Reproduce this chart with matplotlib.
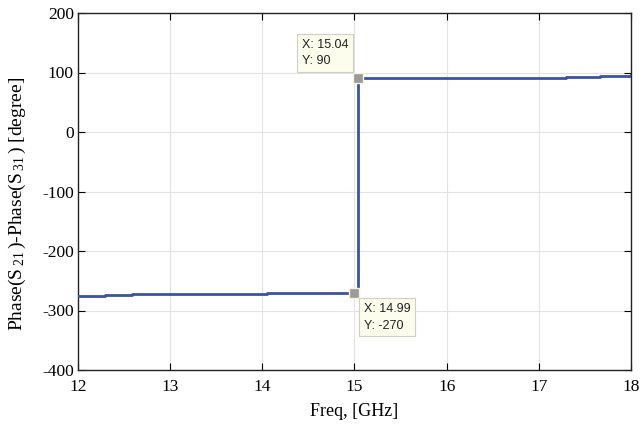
import matplotlib.pyplot as plt
import numpy as np

plt.rcParams['font.family'] = 'Liberation Serif'
plt.rcParams['mathtext.fontset'] = 'custom'
plt.rcParams['mathtext.rm'] = 'Liberation Serif'
plt.rcParams['mathtext.it'] = 'Liberation Serif:italic'
plt.rcParams['axes.unicode_minus'] = False

# phase difference, piecewise constant between sweep points
freq = [12.0, 12.29, 12.59, 13.03, 14.05, 14.99, 15.04, 16.82, 17.3, 17.66, 18.0]
phase = [-275, -274, -273, -272, -271, -270, 90, 91, 92, 94, 95]

# data tips
tip_x = [15.04, 14.99]
tip_y = [90, -270]

xticks = [12, 13, 14, 15, 16, 17, 18]
yticks = [-400, -300, -200, -100, 0, 100, 200]

fig = plt.figure(figsize=(6.43, 4.25), dpi=100)
ax = fig.add_axes([78 / 643, 1 - 370 / 425, 553 / 643, 357 / 425])

ax.step(freq, phase, where='post', color='#3A53A4', linewidth=2, zorder=3)

ax.set_xlim(12, 18)
ax.set_ylim(-400, 200)
ax.set_xticks(xticks)
ax.set_yticks(yticks)
ax.grid(True, color='#E3E3E3', linewidth=0.8)
ax.set_axisbelow(True)
ax.tick_params(direction='in', top=True, right=True, labelsize=12.5, length=5, width=0.8)
ax.tick_params(axis='x', pad=6.5)
ax.tick_params(axis='y', pad=3)
for s in ax.spines.values():
    s.set_linewidth(1.0)
    s.set_color('#222222')

ax.set_xlabel('Freq, [GHz]', fontsize=13, labelpad=5.5)
ax.set_ylabel(r'Phase(S$_{\;21}\,$)-Phase(S$_{\;31}\,$) [degree]', fontsize=14)
ax.yaxis.set_label_coords(-0.091, 0.465)

box = dict(boxstyle='square,pad=0.35', facecolor='#FDFDEE', edgecolor='#CFCFC3', linewidth=0.8)
for i, (x, y) in enumerate(zip(tip_x, tip_y)):
    ax.plot(x, y, marker='s', markersize=7.5, markerfacecolor='#9A9A9A',
            markeredgecolor='#F4F4D8', markeredgewidth=1, zorder=5, clip_on=False)
    label = f'X: {x:.2f}\nY: {y}'
    if i == 0:
        off, ha, va = (-10, 11), 'right', 'bottom'
    else:
        off, ha, va = (10, -10), 'left', 'top'
    ax.annotate(label, (x, y), xytext=off, textcoords='offset pixels', ha=ha, va=va,
                multialignment='left', fontsize=9, family='Liberation Sans', color='#222222',
                linespacing=1.55, bbox=box, zorder=6)

fig.savefig('out.png', dpi=100)
